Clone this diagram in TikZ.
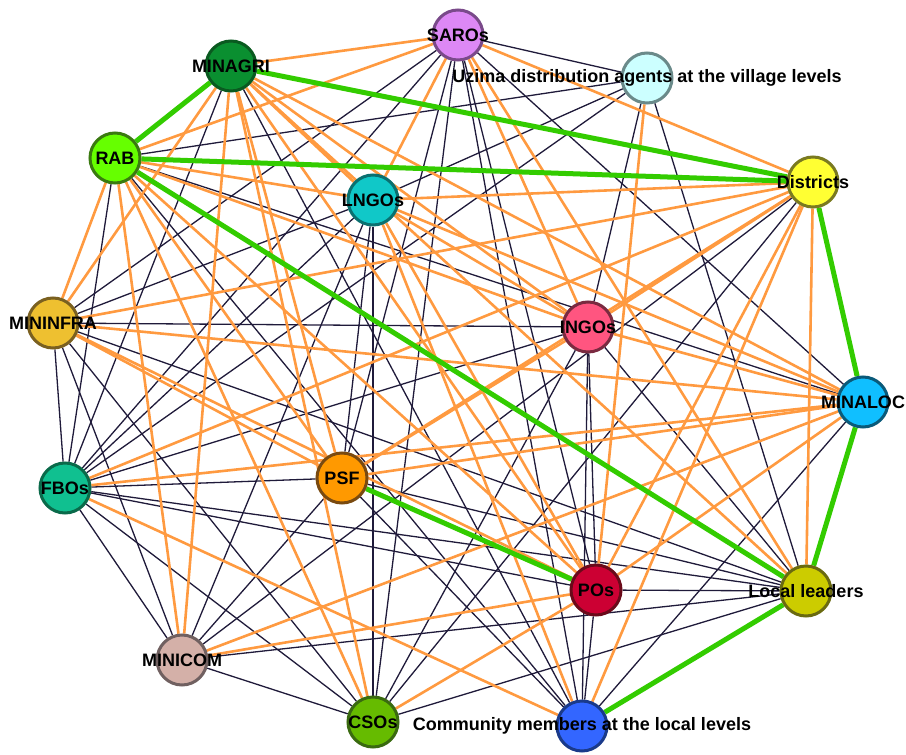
\documentclass[tikz,border=0pt]{standalone}
\usepackage{fontspec}
\setmainfont{Liberation Sans}
\usetikzlibrary{backgrounds}
\definecolor{dkc}{HTML}{1F1A3A}
\definecolor{orc}{HTML}{FF9A40}
\definecolor{grc}{HTML}{33CC00}
\begin{document}
\begin{tikzpicture}[x=1pt,y=-1pt,
  nd/.style={circle,minimum size=50pt,inner sep=0pt,line width=3pt},
  lbl/.style={font=\fontsize{18}{20}\selectfont\bfseries,inner sep=0pt,text=black},
  dk/.style={draw=dkc,line width=1.3pt},
  orl/.style={draw=orc,line width=2.6pt},
  gr/.style={draw=grc,line width=5pt}]
\useasboundingbox (0,0) rectangle (906,755);
% nodes
\node[nd,fill={rgb,255:red,221;green,136;blue,245},draw={rgb,255:red,122;green,74;blue,138}] (S) at (458,35) {};
\node[nd,fill={rgb,255:red,204;green,255;blue,255},draw={rgb,255:red,106;green,138;blue,138}] (U) at (647,78) {};
\node[nd,fill={rgb,255:red,10;green,143;blue,48},draw={rgb,255:red,10;green,90;blue,32}] (MA) at (231,66) {};
\node[nd,fill={rgb,255:red,102;green,255;blue,0},draw={rgb,255:red,58;green,122;blue,16}] (R) at (115,158) {};
\node[nd,fill={rgb,255:red,16;green,200;blue,200},draw={rgb,255:red,10;green,112;blue,112}] (L) at (373,200) {};
\node[nd,fill={rgb,255:red,255;green,255;blue,51},draw={rgb,255:red,122;green,122;blue,32}] (D) at (813,182) {};
\node[nd,fill={rgb,255:red,238;green,192;blue,48},draw={rgb,255:red,122;green,96;blue,32}] (MF) at (53,323) {};
\node[nd,fill={rgb,255:red,255;green,85;blue,128},draw={rgb,255:red,122;green,42;blue,64}] (I) at (588,327) {};
\node[nd,fill={rgb,255:red,16;green,191;blue,255},draw={rgb,255:red,10;green,90;blue,122}] (ML) at (863,402) {};
\node[nd,fill={rgb,255:red,16;green,192;blue,144},draw={rgb,255:red,10;green,106;blue,74}] (F) at (65,488) {};
\node[nd,fill={rgb,255:red,255;green,153;blue,0},draw={rgb,255:red,122;green,74;blue,16}] (P) at (342,478) {};
\node[nd,fill={rgb,255:red,204;green,0;blue,51},draw={rgb,255:red,106;green,10;blue,26}] (PO) at (596,590) {};
\node[nd,fill={rgb,255:red,204;green,204;blue,0},draw={rgb,255:red,106;green,106;blue,16}] (LL) at (806,591) {};
\node[nd,fill={rgb,255:red,212;green,176;blue,168},draw={rgb,255:red,112;green,96;blue,96}] (MC) at (182,660) {};
\node[nd,fill={rgb,255:red,102;green,187;blue,0},draw={rgb,255:red,58;green,106;blue,16}] (C) at (373,722) {};
\node[nd,fill={rgb,255:red,51;green,102;blue,255},draw={rgb,255:red,26;green,58;blue,138}] (CM) at (582,726) {};
% edges
\begin{scope}[on background layer]
\fill[white] (0,0) rectangle (906,755);
\foreach \a/\b in {S/U,S/MF,S/F,S/C,S/CM,S/PO,S/ML,S/P,
  U/R,U/L,U/F,U/I,U/LL,MA/F,MA/CM,R/F,R/CM,R/ML,
  L/MF,L/F,L/P,L/C,L/MC,D/MC,D/C,
  MF/I,MF/LL,MF/F,MF/C,MF/MC,I/LL,I/PO,I/CM,I/F,I/C,
  ML/MC,ML/CM,F/P,F/LL,F/PO,F/C,F/MC,P/LL,P/MC,P/CM,
  PO/LL,PO/CM,LL/MC,LL/C,MC/C}
  \draw[dk] (\a) -- (\b);
\foreach \a/\b in {S/MA,S/R,S/L,S/I,S/LL,S/D,U/PO,
  MA/MF,MA/MC,MA/P,MA/L,MA/I,MA/ML,MA/LL,MA/PO,MA/C,
  R/MF,R/MC,R/C,R/I,R/PO,R/P,R/L,
  L/D,L/ML,L/PO,L/CM,L/I,
  D/MF,D/PO,D/CM,D/P,D/I,D/LL,D/F,
  MF/ML,MF/PO,MF/P,I/ML,I/P,ML/PO,ML/P,ML/F,
  F/CM,PO/MC,PO/C,MC/ML}
  \draw[orl] (\a) -- (\b);
\foreach \a/\b in {MA/R,MA/D,R/D,R/LL,D/ML,ML/LL,LL/CM,P/PO}
  \draw[gr] (\a) -- (\b);
\end{scope}
% labels
\node[lbl] at (S) {SAROs};
\node[lbl] at (U) {Uzima distribution agents at the village levels};
\node[lbl] at (MA) {MINAGRI};
\node[lbl] at (R) {RAB};
\node[lbl] at (L) {LNGOs};
\node[lbl] at (D) {Districts};
\node[lbl] at (MF) {MININFRA};
\node[lbl] at (I) {INGOs};
\node[lbl] at (ML) {MINALOC};
\node[lbl] at (F) {FBOs};
\node[lbl] at (P) {PSF};
\node[lbl] at (PO) {POs};
\node[lbl] at (LL) {Local leaders};
\node[lbl] at (MC) {MINICOM};
\node[lbl] at (C) {CSOs};
\node[lbl] at (CM) {Community members at the local levels};
\end{tikzpicture}
\end{document}
